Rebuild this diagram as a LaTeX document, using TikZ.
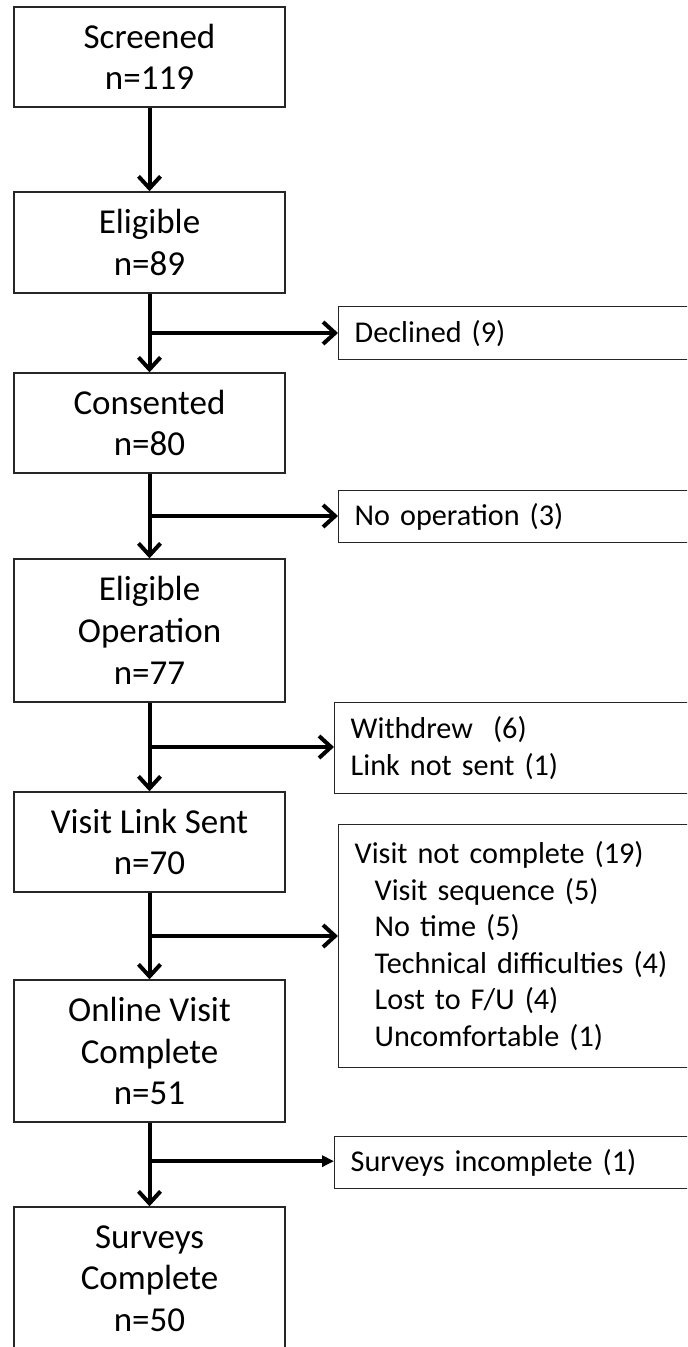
\documentclass[tikz,border=0pt]{standalone}
\usepackage{fontspec}
\setmainfont{Carlito}
\usetikzlibrary{calc,backgrounds,arrows.meta}
\tikzstyle{flowchart}=[
  x=0.5pt,y=-0.5pt,font=\fontsize{17.5}{20.85}\selectfont
]
\tikzstyle{stagebox}=[
  draw=black!85,line width=0.7pt,fill=white,align=center,minimum width=135.5pt,inner sep=2pt
]
\tikzstyle{exclbox}=[
  draw=black!85,line width=0.7pt,fill=white,anchor=north west,align=left,text width=165pt,
  inner xsep=8pt,inner ysep=0pt,font=\fontsize{15.1}{18.25}\selectfont
]
\tikzstyle{mainedge}=[
  line width=2pt,-{Straight Barb[length=6pt,width=11pt]}
]
\tikzstyle{lastedge}=[
  line width=2pt,-{Triangle[length=6pt,width=5.5pt]}
]

\begin{document}
\begin{tikzpicture}[flowchart]
    \useasboundingbox (0,0) rectangle (687,1347);
    \clip (0,0) rectangle (687,1347);
      \node (screened) at (149.5,57) [stagebox,minimum height=50pt] {Screened\\n=119};
      \node (eligible) at (149.5,242.5) [stagebox,minimum height=50.5pt] {Eligible\\n=89};
      \node (consented) at (149.5,423) [stagebox,minimum height=50pt] {Consented\\n=80};
      \node (eligop) at (149.5,630.5) [stagebox,minimum height=71.5pt] {Eligible\\Operation\\n=77};
      \node (linksent) at (149.5,842) [stagebox,minimum height=50pt] {Visit Link Sent\\n=70};
      \node (visitdone) at (149.5,1051) [stagebox,minimum height=71pt] {Online Visit\\Complete\\n=51};
      \node (surveysdone) at (149.5,1278.5) [stagebox,minimum height=71.5pt] {Surveys\\Complete\\n=50};
      \node (declined) at (338,306) [exclbox,minimum height=26.5pt] {Declined (9)};
      \node (noop) at (338,490) [exclbox,minimum height=26pt] {No operation (3)};
      \node (withdrew) at (334,702) [exclbox,minimum height=45.5pt] {Withdrew~~(6)\\Link not sent (1)};
      \node (notcomplete) at (338,824) [exclbox,minimum height=121.5pt] {Visit not complete (19)\\
        \hspace*{10pt}Visit sequence (5)\\\hspace*{10pt}No time (5)\\
        \hspace*{10pt}Technical difficulties (4)\\\hspace*{10pt}Lost to F/U (4)\\
        \hspace*{10pt}Uncomfortable (1)};
      \node (incomplete) at (334,1136) [exclbox,minimum height=26pt] {Surveys incomplete (1)};
      \coordinate (j1) at ($(eligible.south)!0.5!(consented.north)$);
      \coordinate (j2) at ($(consented.south)!0.5!(eligop.north)$);
      \coordinate (j3) at ($(eligop.south)!0.5!(linksent.north)$);
      \coordinate (j4) at ($(linksent.south)!0.5!(visitdone.north)$);
      \coordinate (j5) at ($(visitdone.south)!0.46!(surveysdone.north)$);
    \begin{scope}[on background layer]
      \draw [mainedge] (screened) -- (eligible);
      \draw [mainedge] (eligible) -- (consented);
      \draw [mainedge] (consented) -- (eligop);
      \draw [mainedge] (eligop) -- (linksent);
      \draw [mainedge] (linksent) -- (visitdone);
      \draw [mainedge] (visitdone) -- (surveysdone);
      \draw [mainedge] (j1) -- (j1 -| declined.west);
      \draw [mainedge] (j2) -- (j2 -| noop.west);
      \draw [mainedge] (j3) -- (j3 -| withdrew.west);
      \draw [mainedge] (j4) -- (j4 -| notcomplete.west);
      \draw [lastedge] (j5) -- (j5 -| incomplete.west);
    \end{scope}
\end{tikzpicture}
\end{document}
